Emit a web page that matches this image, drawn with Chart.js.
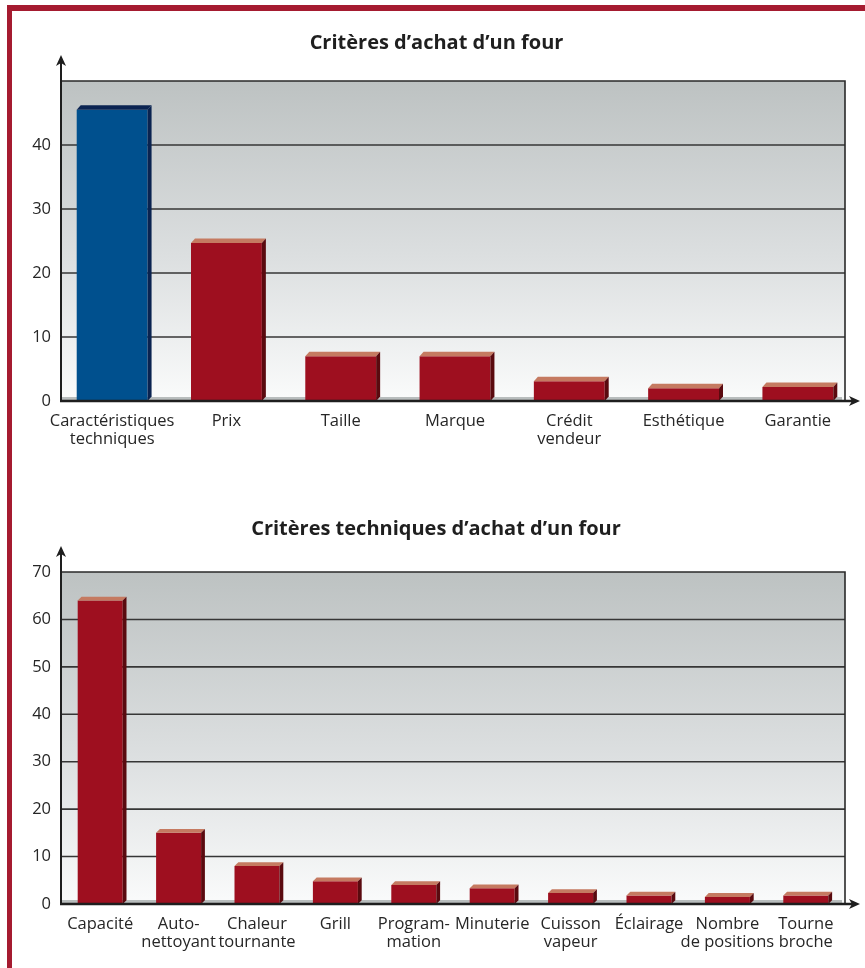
<!DOCTYPE html>
<html>
<head>
<meta charset="utf-8">
<script src="https://cdn.jsdelivr.net/npm/chart.js@4.4.1/dist/chart.umd.min.js"></script>
<style>
  html, body { margin: 0; padding: 0; background: #ffffff; width: 865px; height: 968px; overflow: hidden; }
  #frame { position: absolute; left: 7px; top: 5px; width: 900px; height: 1000px;
           border-left: 5px solid #a51b30; border-top: 6px solid #a51b30; }
  canvas { position: absolute; left: 0; }
  #purchase { top: 0; }
  #technical { top: 470px; }
</style>
</head>
<body>
<div id="frame"></div>
<canvas id="purchase" width="865" height="470"></canvas>
<canvas id="technical" width="865" height="498"></canvas>
<script>
// Critères d'achat d'un four (%)
const purchaseCategories = [["Caractéristiques", "techniques"], "Prix", "Taille", "Marque", ["Crédit", "vendeur"], "Esthétique", "Garantie"];
const purchaseShares = [45.5, 24.7, 7, 7, 3.1, 2, 2.2];
const purchaseTicks = [0, 10, 20, 30, 40];
const purchaseMax = 50;

// Critères techniques d'achat d'un four (%)
const technicalCategories = ["Capacité", ["Auto-", "nettoyant"], ["Chaleur", "tournante"], "Grill", ["Program-", "mation"], "Minuterie", ["Cuisson", "vapeur"], "Éclairage", ["Nombre", "de positions"], ["Tourne", "broche"]];
const technicalShares = [64, 15, 8, 4.8, 4, 3.3, 2.3, 1.8, 1.5, 1.8];
const technicalTicks = [0, 10, 20, 30, 40, 50, 60, 70];
const technicalMax = 70;

const FONT = "'Open Sans', 'Noto Sans', sans-serif";
const TEXT = '#262626';
const RED = { front: '#9e0f1f', top: '#c57a61', side: '#5a0a0f' };
const BLUE = { front: '#00508e', top: '#0b2452', side: '#0a2350' };

// Back wall, grid, pseudo-3D bar faces and arrowed axes
const ovenWall = {
  id: 'ovenWall',
  beforeDatasetsDraw(chart, args, opts) {
    const { ctx, chartArea: a, scales: { y } } = chart;
    const L = a.left + opts.insetLeft, R = a.right - opts.insetRight;
    const top = y.getPixelForValue(y.max), base = y.getPixelForValue(0);
    ctx.save();
    const g = ctx.createLinearGradient(0, top, 0, base);
    g.addColorStop(0, '#bdc2c2');
    g.addColorStop(0.55, '#dcdfe0');
    g.addColorStop(1, '#fafbfb');
    ctx.fillStyle = g;
    ctx.fillRect(L, top, R - L, base - top);
    ctx.fillStyle = '#b8bdbd';
    ctx.fillRect(L, base - 4, R - L - 3, 4);
    ctx.strokeStyle = '#363636';
    ctx.lineWidth = 1.6;
    opts.grid.forEach(v => {
      if (v <= 0 || v >= y.max) return;
      const py = y.getPixelForValue(v);
      ctx.beginPath(); ctx.moveTo(L, py); ctx.lineTo(R, py); ctx.stroke();
    });
    ctx.strokeStyle = '#2a2a2a';
    ctx.lineWidth = 1.6;
    ctx.beginPath(); ctx.moveTo(L, top); ctx.lineTo(R, top); ctx.lineTo(R, base); ctx.stroke();
    ctx.restore();
  },
  afterDatasetsDraw(chart, args, opts) {
    const { ctx, chartArea: a, scales: { y } } = chart;
    const L = a.left + opts.insetLeft, R = a.right - opts.insetRight;
    const top = y.getPixelForValue(y.max), base = y.getPixelForValue(0);
    const d = opts.depth, h = opts.rise;
    ctx.save();
    chart.getDatasetMeta(0).data.forEach((bar, i) => {
      const p = bar.getProps(['x', 'y', 'base', 'width'], true);
      const x0 = p.x - p.width / 2, x1 = p.x + p.width / 2;
      const face = opts.faces[i];
      ctx.fillStyle = face.top;
      ctx.beginPath();
      ctx.moveTo(x0, p.y); ctx.lineTo(x1, p.y); ctx.lineTo(x1 + d, p.y - h); ctx.lineTo(x0 + d, p.y - h);
      ctx.closePath(); ctx.fill();
      ctx.fillStyle = face.side;
      ctx.beginPath();
      ctx.moveTo(x1, p.y); ctx.lineTo(x1 + d, p.y - h); ctx.lineTo(x1 + d, p.base - h); ctx.lineTo(x1, p.base);
      ctx.closePath(); ctx.fill();
    });
    ctx.strokeStyle = '#1e1e1e';
    ctx.fillStyle = '#1e1e1e';
    ctx.lineWidth = 2;
    const tipY = top - 26, tipX = R + 15;
    ctx.beginPath(); ctx.moveTo(L, base); ctx.lineTo(L, tipY + 8); ctx.stroke();
    ctx.beginPath(); ctx.moveTo(L, tipY); ctx.lineTo(L - 5, tipY + 11); ctx.lineTo(L, tipY + 8); ctx.lineTo(L + 5, tipY + 11); ctx.closePath(); ctx.fill();
    ctx.lineWidth = 2.5;
    ctx.beginPath(); ctx.moveTo(L - 1, base); ctx.lineTo(tipX - 8, base); ctx.stroke();
    ctx.beginPath(); ctx.moveTo(tipX, base); ctx.lineTo(tipX - 11, base - 5); ctx.lineTo(tipX - 8, base); ctx.lineTo(tipX - 11, base + 5); ctx.closePath(); ctx.fill();
    ctx.restore();
  }
};

function buildChart(id, cfg) {
  const faces = cfg.values.map((v, i) => (cfg.highlight === i ? BLUE : RED));
  return new Chart(document.getElementById(id), {
    type: 'bar',
    data: {
      labels: cfg.categories,
      datasets: [{
        data: cfg.values,
        backgroundColor: faces.map(f => f.front),
        borderWidth: 0,
        categoryPercentage: 1,
        barPercentage: cfg.barPercentage
      }]
    },
    options: {
      responsive: false,
      animation: false,
      events: [],
      layout: { padding: { left: cfg.padLeft, right: cfg.padRight, top: 0, bottom: 0 } },
      plugins: {
        legend: { display: false },
        tooltip: { enabled: false },
        title: {
          display: true,
          text: cfg.title,
          color: '#1f1f1f',
          font: { family: FONT, size: 20, weight: 'bold', lineHeight: 1.2 },
          padding: { top: cfg.titleTop, bottom: cfg.titleBottom }
        },
        ovenWall: {
          insetLeft: cfg.insetLeft, insetRight: cfg.insetRight,
          grid: cfg.ticks, depth: cfg.depth, rise: cfg.rise, faces: faces
        }
      },
      scales: {
        x: {
          grid: { display: false, drawTicks: false },
          border: { display: false },
          ticks: {
            color: TEXT, autoSkip: false, maxRotation: 0, minRotation: 0, padding: 11,
            font: { family: FONT, size: 16.5, lineHeight: 1.12 }
          },
          afterFit(scale) { scale.height = cfg.xHeight; }
        },
        y: {
          min: 0, max: cfg.max,
          grid: { display: false, drawTicks: false },
          border: { display: false },
          ticks: {
            stepSize: 10, color: TEXT, padding: cfg.yPad,
            font: { family: FONT, size: 16.5, lineHeight: 1.12 },
            callback: v => (cfg.ticks.includes(v) ? String(v) : '')
          },
          afterFit(scale) { scale.width = cfg.yWidth; }
        }
      }
    },
    plugins: [ovenWall]
  });
}

buildChart('purchase', {
  title: 'Critères d’achat d’un four',
  categories: purchaseCategories, values: purchaseShares, ticks: purchaseTicks, max: purchaseMax,
  highlight: 0, barPercentage: 0.62,
  padLeft: 18, padRight: 10, yWidth: 37, yPad: 4, xHeight: 69,
  titleTop: 31, titleBottom: 26,
  insetLeft: 6, insetRight: 10, depth: 4, rise: 4.5
});

buildChart('technical', {
  title: 'Critères techniques d’achat d’un four',
  categories: technicalCategories, values: technicalShares, ticks: technicalTicks, max: technicalMax,
  highlight: -1, barPercentage: 0.574,
  padLeft: 27, padRight: 20, yWidth: 34, yPad: 10, xHeight: 64,
  titleTop: 47, titleBottom: 31,
  insetLeft: 0, insetRight: 0, depth: 3.8, rise: 3.8
});
</script>
</body>
</html>
